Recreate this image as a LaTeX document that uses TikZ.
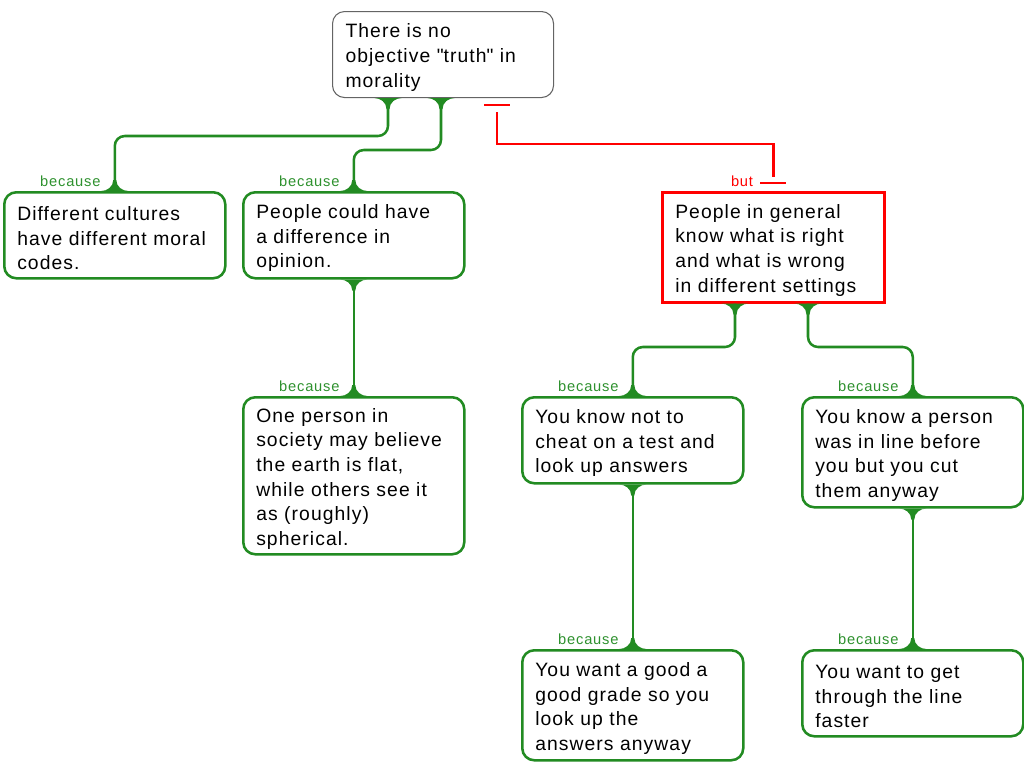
\documentclass[tikz,border=0pt]{standalone}
\usepackage{fontspec}
\setmainfont{Liberation Sans}[LetterSpace=5.5]
\usetikzlibrary{calc}
\definecolor{grn}{RGB}{34,139,34}
\definecolor{lblgrn}{RGB}{46,145,46}
\definecolor{bordergray}{RGB}{100,100,100}
\begin{document}
\begin{tikzpicture}[x=0.75pt,y=-0.75pt,
  box/.style={draw=grn,line width=1.9pt,rounded corners=9pt,fill=white,anchor=north west,
    align=left,text width=146.25pt,inner xsep=9.75pt,inner ysep=0pt,minimum height=64.5pt,
    font=\fontsize{14.5pt}{18.4pt}\selectfont,execute at begin node={\rule{0pt}{15pt}}},
  topbox/.style={box,draw=bordergray,line width=0.8pt},
  redbox/.style={box,draw=red,sharp corners,minimum height=82.5pt,text width=147pt},
  conn/.style={draw=grn,line width=1.9pt,rounded corners=7.5pt},
  redline/.style={draw=red,line width=1.9pt},
  lbl/.style={text=lblgrn,anchor=base east,inner sep=0pt,font=\fontsize{11pt}{12pt}\selectfont},
  redlbl/.style={lbl,text=red},
  flare/.pic={\fill[grn] (-13.5,0) .. controls (-8,0) and (-1.5,4) .. (-1.5,11) -- (1.5,11) .. controls (1.5,4) and (8,0) .. (13.5,0) -- cycle;}
]
\useasboundingbox (0,0) rectangle (1024,768);
% nodes
\node[topbox] (top) at (332,11) {There~is~no\\objective~\textquotedbl truth\textquotedbl~in\\morality};
\node[box] (A) at (3,191) {Different~cultures\\have~different~moral\\codes.};
\node[box] (B) at (242,191) {People~could~have\\a~difference~in\\opinion.};
\node[box,minimum height=117.75pt] (C) at (242,396) {One~person~in\\society~may~believe\\the~earth~is~flat,\\while~others~see~it\\as~(roughly)\\spherical.};
\node[redbox] (D) at (661,191) {People~in~general\\know~what~is~right\\and~what~is~wrong\\in~different~settings};
\node[box] (E) at (521,396) {You~know~not~to\\cheat~on~a~test~and\\look~up~answers};
\node[box,minimum height=82.5pt] (F) at (801,396) {You~know~a~person\\was~in~line~before\\you~but~you~cut\\them~anyway};
\node[box,minimum height=82.5pt] (G) at (521,649) {You~want~a~good~a\\good~grade~so~you\\look~up~the\\answers~anyway};
\node[box] (H) at (801,649) {You~want~to~get\\through~the~line\\faster};
% green connectors
\coordinate (j1) at ($(top.south west)+(56,0)$);
\coordinate (j2) at ($(top.south west)+(109,0)$);
\coordinate (j4) at ($(D.south west)+(74,0)$);
\coordinate (j5) at ($(D.south west)+(147,0)$);
\path[conn] (j1) |- ($(A.north)+(0,-55)$) -- (A.north);
\path[conn] (j2) |- ($(B.north)+(0,-41)$) -- (B.north);
\path[conn] (B.south) -- (C.north);
\path[conn] (j4) |- ($(E.north)+(0,-49)$) -- (E.north);
\path[conn] (j5) |- ($(F.north)+(0,-49)$) -- (F.north);
\path[conn] (E.south) -- (G.north);
\path[conn] (F.south) -- (H.north);
\foreach \p in {j1,j2,B.south,j4,j5,E.south,F.south} \pic at (\p) {flare};
\foreach \p in {A.north,B.north,C.north,E.north,F.north,G.north,H.north} \pic[rotate=180] at (\p) {flare};
% red connector
\path[redline] ($(top.south west)+(165,14)$) |- ($(D.north)+(0,-47)$) -- ($(D.north)+(0,-14)$);
\path[redline] ($(top.south west)+(152,7)$) -- ++(26,0);
\path[redline] ($(D.north)+(-13,-8)$) -- ++(26,0);
% labels
\node[lbl] (lA) at ($(A.north)+(-14,-5)$) {because};
\node[lbl] (lB) at ($(B.north)+(-14,-5)$) {because};
\node[lbl] (lC) at ($(C.north)+(-14,-5)$) {because};
\node[lbl] (lE) at ($(E.north)+(-14,-5)$) {because};
\node[lbl] (lF) at ($(F.north)+(-14,-5)$) {because};
\node[lbl] (lG) at ($(G.north)+(-14,-5)$) {because};
\node[lbl] (lH) at ($(H.north)+(-14,-5)$) {because};
\node[redlbl] (lD) at ($(D.north)+(-20,-5)$) {but};
\end{tikzpicture}
\end{document}
